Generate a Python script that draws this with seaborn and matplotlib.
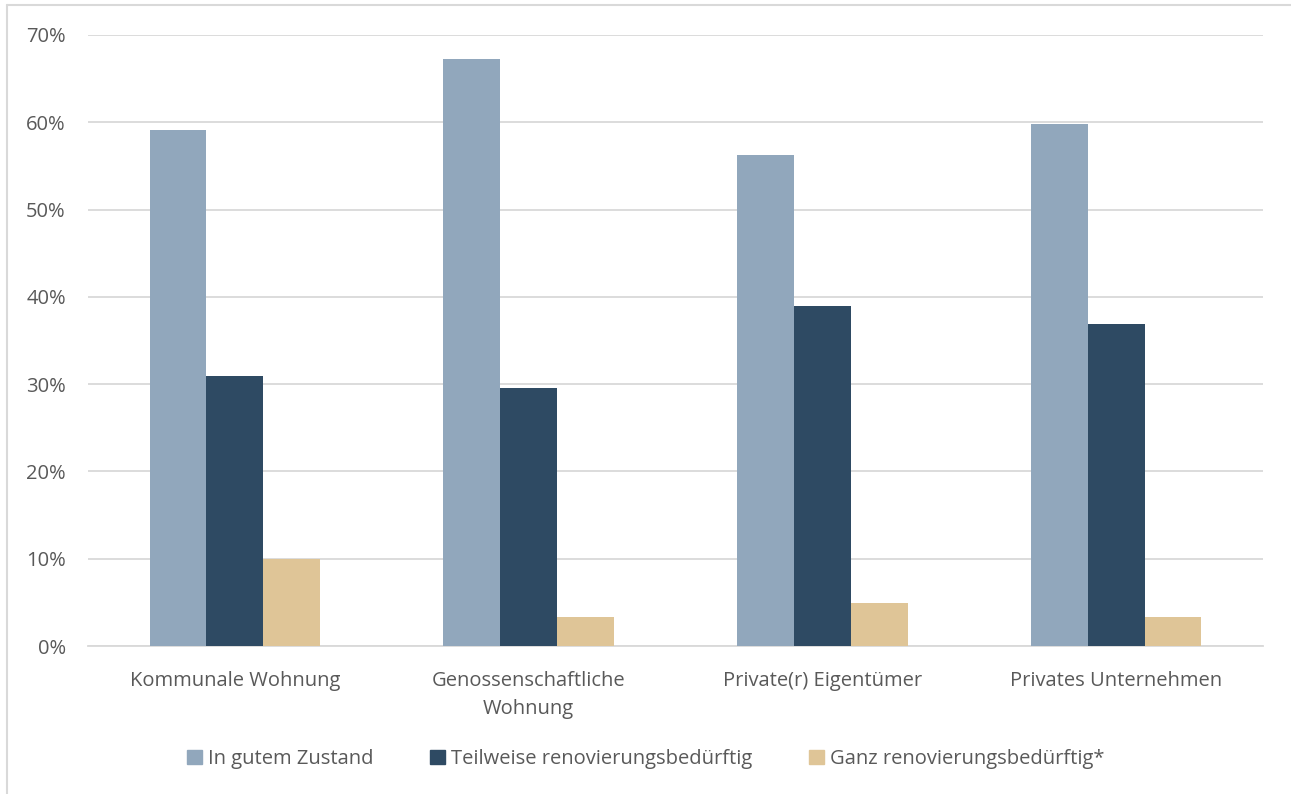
import matplotlib
matplotlib.use("Agg")
import matplotlib.pyplot as plt
import matplotlib.patches as mpatches
from matplotlib.lines import Line2D
import seaborn as sns
import pandas as pd
from matplotlib.ticker import PercentFormatter

categories = ["Kommunale Wohnung", "Genossenschaftliche\nWohnung", "Private(r) Eigentümer", "Privates Unternehmen"]
series = ["In gutem Zustand", "Teilweise renovierungsbedürftig", "Ganz renovierungsbedürftig*"]
gut = [59.1, 67.2, 56.2, 59.8]
teilweise = [30.9, 29.6, 38.9, 36.9]
ganz = [10.0, 3.3, 4.9, 3.3]
colors = ["#91A7BC", "#2E4A63", "#DFC597"]

rows = []
for s, vals in zip(series, [gut, teilweise, ganz]):
    for c, v in zip(categories, vals):
        rows.append({"cat": c, "series": s, "value": v})
df = pd.DataFrame(rows)

sns.set_theme(style="white")
plt.rcParams['font.family'] = ['Open Sans', 'DejaVu Sans']

fig = plt.figure(figsize=(12.91, 7.94), dpi=100)
ax = fig.add_axes([88/1291, 1 - 646/794, (1263-88)/1291, (646-35)/794])

sns.barplot(data=df, x="cat", y="value", hue="series", palette=colors,
            width=0.58, saturation=1, ax=ax, legend=True, zorder=3,
            linewidth=0, edgecolor="none")

ax.set_ylim(0, 70)
ax.set_xlim(-0.5, 3.5)
ax.set_yticks(range(0, 71, 10))
ax.yaxis.set_major_formatter(PercentFormatter(decimals=0))
ax.grid(axis="y", color="#D9D9D9", linewidth=1.3, zorder=0)
ax.set_axisbelow(True)
for sp in ["top", "right", "left"]:
    ax.spines[sp].set_visible(False)
ax.spines["bottom"].set_color("#D9D9D9")
ax.spines["bottom"].set_linewidth(1.3)
ax.set_xlabel("")
ax.set_ylabel("")
ax.tick_params(axis="both", length=0, labelsize=14.5, colors="#595959")
ax.tick_params(axis="x", pad=18)
ax.tick_params(axis="y", pad=16)
for lbl in ax.get_xticklabels():
    lbl.set_linespacing(1.55)

handles = [mpatches.Patch(color=c, label=s) for c, s in zip(colors, series)]
ax.legend(handles=handles, loc="center", bbox_to_anchor=(0.5, (794-759)/794),
          bbox_transform=fig.transFigure, ncol=3, frameon=False,
          fontsize=14.5, labelcolor="#595959", handlelength=0.75, handleheight=0.75,
          handletextpad=0.3, columnspacing=2.8)

fig.add_artist(Line2D([7/1291, 1], [1 - 5/794, 1 - 5/794], transform=fig.transFigure,
                      color="#D9D9D9", linewidth=1.5))
fig.add_artist(Line2D([7/1291, 7/1291], [0, 1 - 5/794], transform=fig.transFigure,
                      color="#D9D9D9", linewidth=1.5))

fig.savefig("out.png", dpi=100, facecolor="white")
